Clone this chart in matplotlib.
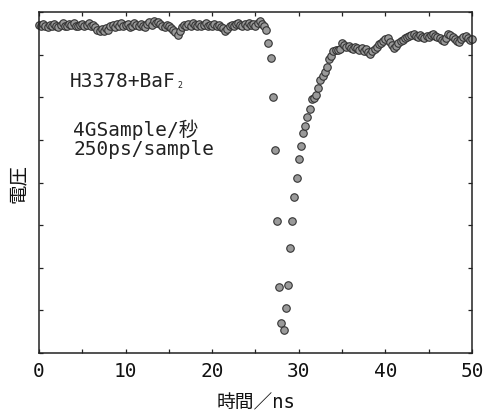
import numpy as np
import matplotlib
matplotlib.use("Agg")
import matplotlib.pyplot as plt
from matplotlib.ticker import MultipleLocator, NullFormatter

plt.rcParams['font.family'] = ['DejaVu Sans Mono', 'Noto Sans CJK JP']

# time axis: 0..50 ns, sampled every 0.25 ns (4 GSample/s)
time_ns = np.arange(201) * 0.25

baseline = [
    7.70, 7.66, 7.72, 7.68, 7.64, 7.70, 7.66, 7.72, 7.68, 7.64,
    7.70, 7.74, 7.68, 7.66, 7.72, 7.70, 7.74, 7.68, 7.66, 7.70,
    7.72, 7.68, 7.70, 7.74, 7.66, 7.70, 7.64,
    7.58, 7.55, 7.60, 7.56, 7.62, 7.58,
    7.66, 7.70, 7.64, 7.72, 7.68, 7.74, 7.66, 7.70, 7.72, 7.64, 7.68, 7.74, 7.70, 7.66, 7.72, 7.68, 7.64,
    7.72, 7.76, 7.70, 7.78, 7.74, 7.76, 7.72,
    7.66, 7.64, 7.70, 7.68, 7.62, 7.58,
    7.52, 7.47, 7.56,
    7.64, 7.70, 7.66, 7.72, 7.68, 7.74, 7.70, 7.66, 7.72, 7.68, 7.70, 7.74, 7.66, 7.70, 7.68, 7.72, 7.66, 7.70, 7.64, 7.62,
    7.56, 7.60, 7.66,
    7.70, 7.68, 7.72, 7.74, 7.70, 7.66, 7.72, 7.68, 7.74, 7.70, 7.72, 7.68, 7.74,
    7.79, 7.72, 7.66, 7.58,
]
pulse = [
    7.27, 6.91, 6.01, 4.76, 3.10, 1.56, 0.70, 0.55, 1.05, 1.60,
    2.46, 3.10, 3.65, 4.10, 4.55, 4.86, 5.15, 5.32, 5.53, 5.72,
    5.96, 5.99, 6.05, 6.21, 6.40, 6.49, 6.60, 6.70, 6.90, 6.97,
    7.09, 7.11, 7.11, 7.13, 7.27,
]
plateau = [
    7.23, 7.18, 7.20, 7.15, 7.13, 7.18, 7.15, 7.11,
    7.15, 7.08, 7.13, 7.06, 7.01, 7.08,
    7.13, 7.18, 7.25, 7.27, 7.32, 7.37,
    7.39, 7.30, 7.23, 7.16, 7.20, 7.27,
    7.32, 7.34, 7.39, 7.41, 7.44, 7.46,
    7.48, 7.44, 7.41, 7.46, 7.41, 7.39, 7.44, 7.41,
    7.46, 7.48, 7.44, 7.41, 7.39, 7.34, 7.32, 7.39,
    7.48, 7.46, 7.41, 7.37, 7.32, 7.30, 7.37,
    7.41, 7.44, 7.39, 7.34, 7.37,
]
voltage = np.array(baseline + pulse + plateau)

x_ticks = [0, 10, 20, 30, 40, 50]
x_labels = ["0", "10", "20", "30", "40", "50"]

fig = plt.figure(figsize=(4.86, 4.14), dpi=100)
ax = fig.add_axes([0.0802, 0.1449, 0.8910, 0.8237])

ax.plot(time_ns, voltage, linestyle='none', marker='o', markersize=5.4,
        markerfacecolor='#9a9a9a', markeredgecolor='#333333', markeredgewidth=0.8,
        clip_on=False)

ax.set_xlim(0, 50)
ax.set_ylim(0, 8)
ax.set_xticks(x_ticks)
ax.set_xticklabels(x_labels)
ax.xaxis.set_minor_locator(MultipleLocator(5))
ax.yaxis.set_major_locator(MultipleLocator(1))
ax.yaxis.set_major_formatter(NullFormatter())

ax.tick_params(which='both', direction='in', top=True, right=True,
               length=3, width=0.9, color='#222222')
ax.tick_params(axis='x', which='major', labelsize=14, pad=6, labelcolor='#111111')
for s in ax.spines.values():
    s.set_linewidth(1.1)
    s.set_color('#222222')

ax.set_xlabel("時間／ns", fontsize=13.5, labelpad=8.5, color='#111111')
ax.set_ylabel("電圧", fontsize=14, labelpad=4, color='#111111',
              family=['Noto Sans CJK JP'])

t1 = ax.text(0.072, 0.782, "H3378+BaF", transform=ax.transAxes, fontsize=14,
             color='#222222', va='baseline', ha='left')
ax.annotate("2", xy=(1, 0), xycoords=t1, xytext=(1, 1), textcoords='offset points',
            fontsize=6, color='#222222', va='bottom', ha='left')

ax.text(0.079, 0.638, "4GSample/秒", transform=ax.transAxes, fontsize=14,
        color='#222222', va='baseline', ha='left')
ax.text(0.079, 0.583, "250ps/sample", transform=ax.transAxes, fontsize=14,
        color='#222222', va='baseline', ha='left')

fig.savefig("out.png", dpi=100)
